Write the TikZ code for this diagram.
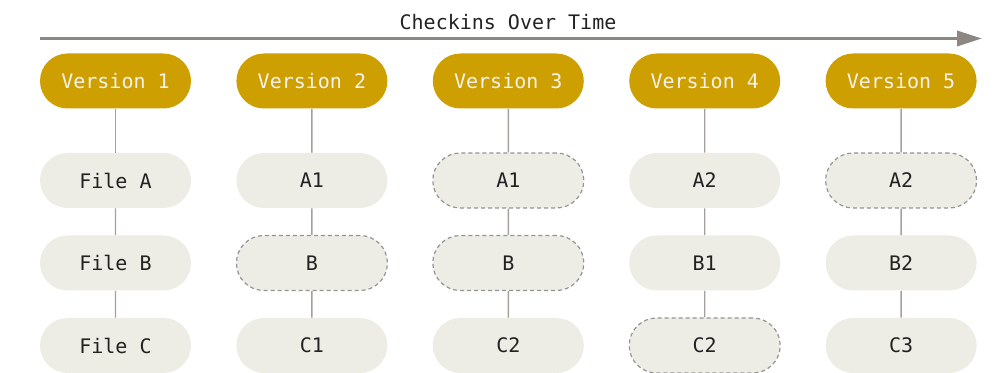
\documentclass[tikz,border=0pt]{standalone}
\usepackage{fontspec}
\setmonofont{DejaVu Sans Mono}
\usetikzlibrary{positioning}
\usetikzlibrary{arrows.meta}
\definecolor{gold}{RGB}{206,159,0}
\definecolor{paper}{RGB}{237,236,229}
\definecolor{ink}{RGB}{34,34,34}
\definecolor{wire}{RGB}{165,160,155}
\definecolor{axis}{RGB}{140,135,130}

\begin{document}
\begin{tikzpicture}[font=\ttfamily,
                        pill/.style={rounded corners=13.75pt, minimum width=75.5pt,
                                     minimum height=27.5pt, inner sep=0pt},
                        version/.style={pill, fill=gold, text=paper!70!white},
                        file/.style={pill, fill=paper, text=ink},
                        same/.style={file, draw=black!42, line width=0.6pt,
                                     dash pattern=on 2pt off 1.5pt},
                        edge from parent/.style={draw=wire, line width=0.7pt},
                        level 1/.style={level distance=49.75pt},
                        level 2/.style={level distance=41.25pt},
                        level 3/.style={level distance=41.25pt}]
        \useasboundingbox (0,0) rectangle (498pt,-186.5pt);
        \coordinate (start) at (20pt,-19.25pt);
        \coordinate (end) at (491pt,-19.25pt);
        \draw[axis, line width=1.75pt, -{Triangle[length=12.5pt, width=7.5pt]}] (start) -- (end);
        \node[text=ink] (time) at (254pt,-11pt) {Checkins Over Time};
        \node[version] (v1) at (57.75pt,-40.5pt) {Version 1}
            child { node[file] (v1a) {File A}
                child { node[file] (v1b) {File B}
                    child { node[file] (v1c) {File C} }
                }
            };
        \node[version] (v2) [right=22.3pt of v1] {Version 2}
            child { node[file] (v2a) {A1}
                child { node[same] (v2b) {B}
                    child { node[file] (v2c) {C1} }
                }
            };
        \node[version] (v3) [right=22.3pt of v2] {Version 3}
            child { node[same] (v3a) {A1}
                child { node[same] (v3b) {B}
                    child { node[file] (v3c) {C2} }
                }
            };
        \node[version] (v4) [right=22.3pt of v3] {Version 4}
            child { node[file] (v4a) {A2}
                child { node[file] (v4b) {B1}
                    child { node[same] (v4c) {C2} }
                }
            };
        \node[version] (v5) [right=22.3pt of v4] {Version 5}
            child { node[same] (v5a) {A2}
                child { node[file] (v5b) {B2}
                    child { node[file] (v5c) {C3} }
                }
            };
    \end{tikzpicture}
\end{document}
